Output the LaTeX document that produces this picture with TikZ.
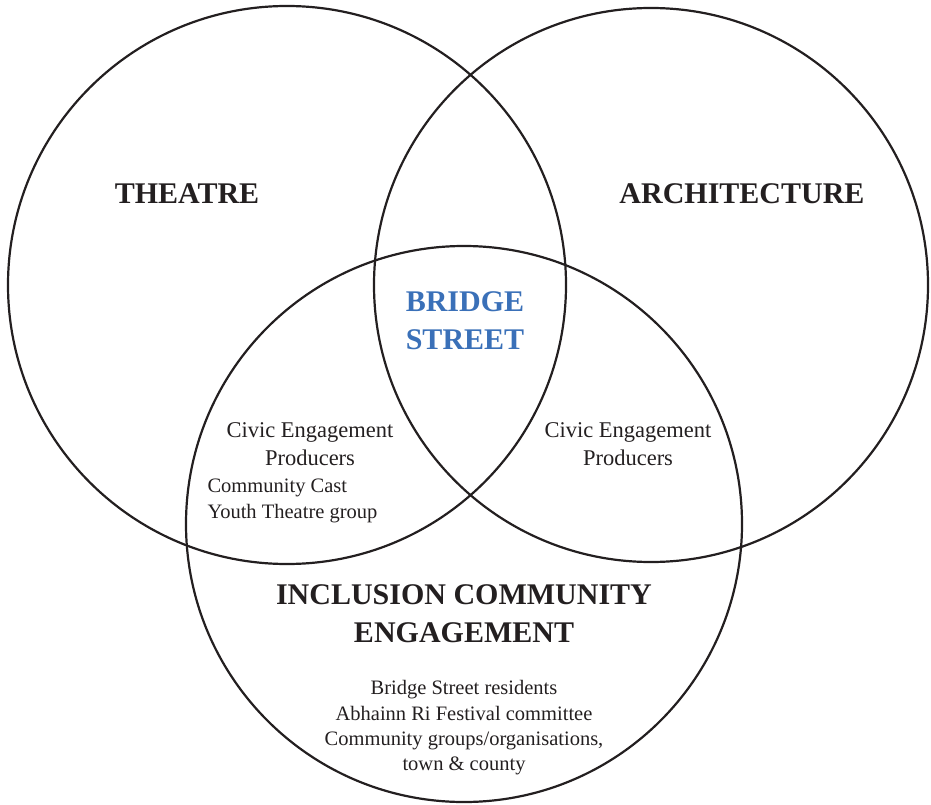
\documentclass[tikz,border=0pt]{standalone}
\usepackage{fontspec}
\setmainfont{Liberation Serif}
\usepackage{xcolor}
\definecolor{bridgeblue}{HTML}{3A70B8}
\definecolor{ink}{HTML}{231F20}
\begin{document}
\begin{tikzpicture}[x=1pt,y=-1pt,
  ring/.style={draw=ink,line width=2.2pt},
  heading/.style={font=\bfseries\fontsize{30}{38}\selectfont,align=center,text=ink},
  civic/.style={font=\fontsize{22.5}{28}\selectfont,align=center,text=ink},
  members/.style={font=\fontsize{20.5}{25.3}\selectfont,text=ink}]
  \useasboundingbox (0,0) rectangle (931,805);
  \draw[ring] (287,285) circle[radius=279pt];
  \draw[ring] (651,285) circle[radius=277pt];
  \draw[ring] (464,524) circle[radius=278pt];
  \node[heading] (theatre) at (187,194) {THEATRE};
  \node[heading] (architecture) at (742,194) {ARCHITECTURE};
  \node[heading,text=bridgeblue] (bridge) at (465,321) {BRIDGE\\STREET};
  \node[heading] (inclusion) at (464,614) {INCLUSION COMMUNITY\\ENGAGEMENT};
  \node[civic] (civicleft) at (310,444) {Civic Engagement\\Producers};
  \node[civic] (civicright) at (628,444) {Civic Engagement\\Producers};
  \node[members,align=left,anchor=west] (cast) at (204,501) {Community Cast\\Youth Theatre group};
  \node[members,align=center] (residents) at (464,728) {Bridge Street residents\\Abhainn Ri Festival committee\\Community groups/organisations,\\town \& county};
\end{tikzpicture}
\end{document}
